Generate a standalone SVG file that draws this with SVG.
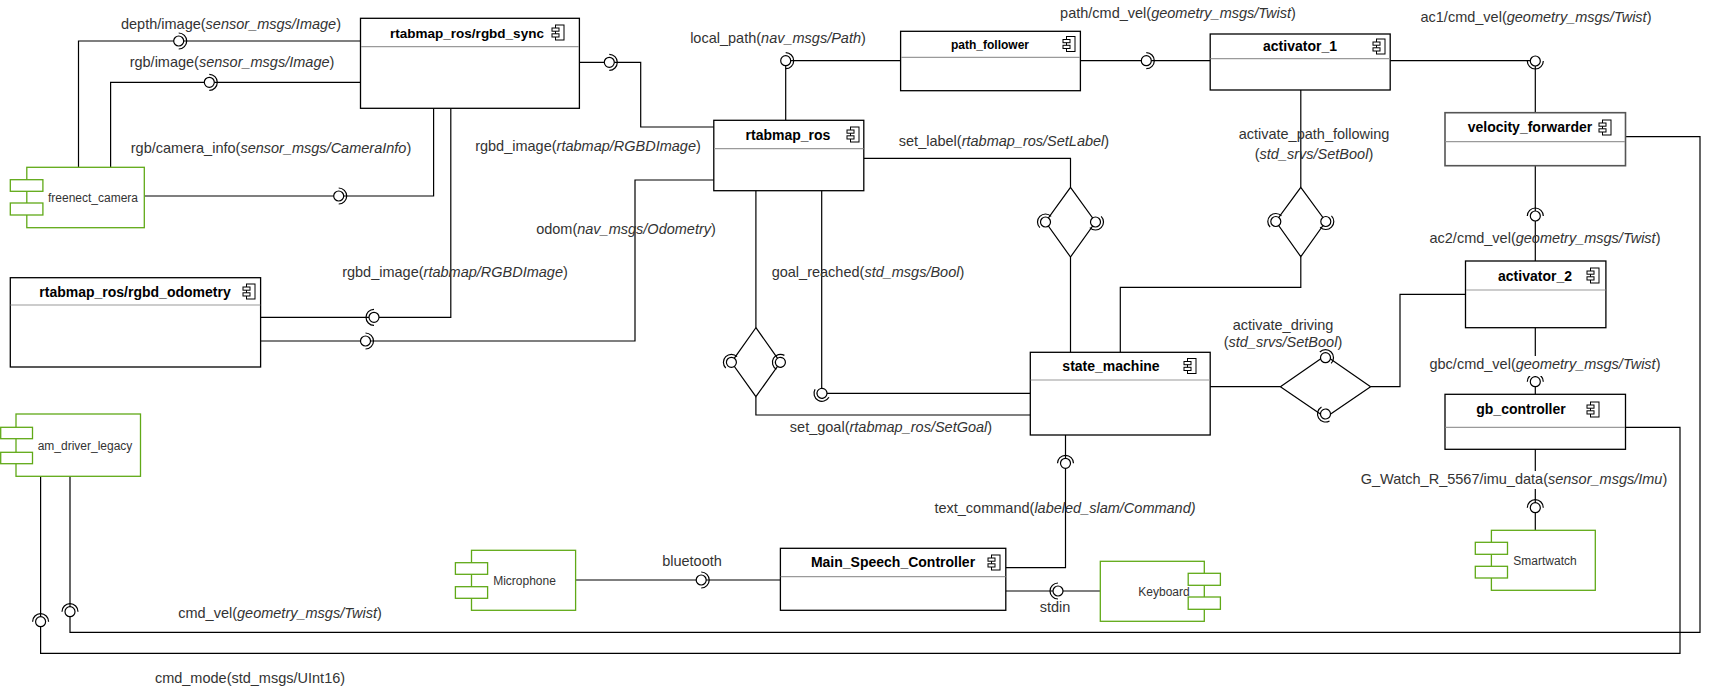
<svg xmlns="http://www.w3.org/2000/svg" xmlns:xlink="http://www.w3.org/1999/xlink" width="1715" height="688" viewBox="0 0 1715 688">
<style>
.bg{fill:#ffffff}
.box{fill:#ffffff;stroke:#000000;stroke-width:1.3}
.sep{stroke:#9a9a9a;stroke-width:1.2}
.gbox{fill:#ffffff;stroke:#60a917;stroke-width:1.3}
.ln{fill:none;stroke:#000000;stroke-width:1.2}
.title{font-family:"Liberation Sans",Arial,sans-serif;font-weight:bold;font-size:14px;fill:#000000;text-anchor:middle}
.gt{font-family:"Liberation Sans",Arial,sans-serif;font-size:12px;fill:#333333;text-anchor:middle}
.lbl{font-family:"Liberation Sans",Arial,sans-serif;font-size:14.5px;fill:#333333;text-anchor:middle}
.it{font-style:italic}
.ico{fill:#ffffff;stroke:#000000;stroke-width:1}
</style>
<defs>
<g id="lol">
<circle cx="0" cy="0" r="5" fill="#ffffff" stroke="#000000" stroke-width="1.2"/>
<path d="M0,-8 A8,8 0 0 1 0,8" fill="none" stroke="#000000" stroke-width="1.2"/>
</g>
<g id="icon">
<rect x="3.5" y="0" width="8.5" height="15" class="ico"/>
<rect x="0" y="3" width="7" height="3.2" class="ico"/>
<rect x="0" y="8.8" width="7" height="3.2" class="ico"/>
</g>
</defs>
<rect class="bg" x="0" y="0" width="1715" height="688"/>

<g id="connectors">
<polyline class="ln" points="78.5,167.3 78.5,41 360.5,41"/>
<polyline class="ln" points="110.6,167.3 110.6,82.3 360.5,82.3"/>
<polyline class="ln" points="144.3,196 433.6,196 433.6,108.3"/>
<polyline class="ln" points="579.4,62.3 640.7,62.3 640.7,127 713.8,127"/>
<polyline class="ln" points="785.7,120.3 785.7,60.7 900.6,60.7"/>
<polyline class="ln" points="1080.4,60.7 1210.2,60.7"/>
<polyline class="ln" points="1390.2,60.7 1535.3,60.7 1535.3,112.7"/>
<polyline class="ln" points="1535.3,165.7 1535.3,261"/>
<polyline class="ln" points="1535.3,327.7 1535.3,394.3"/>
<polyline class="ln" points="1535.3,449.3 1535.3,530.3"/>
<polyline class="ln" points="260.6,317.3 450.8,317.3 450.8,108.3"/>
<polyline class="ln" points="260.6,341 635,341 635,180 713.8,180"/>
<polyline class="ln" points="863.8,158.3 1070.5,158.3 1070.5,187.3"/>
<polyline class="ln" points="1070.5,257 1070.5,352.3"/>
<polygon class="ln" points="1070.5,187.3 1095.5,222 1070.5,257 1045.5,222"/>
<polyline class="ln" points="1300.8,90 1300.8,187.3"/>
<polygon class="ln" points="1300.8,187.3 1325.8,221.5 1300.8,256.7 1275.8,221.5"/>
<polyline class="ln" points="1300.8,256.7 1300.8,287.3 1120.3,287.3 1120.3,352.3"/>
<polyline class="ln" points="755.9,190.7 755.9,327.7"/>
<polygon class="ln" points="755.9,327.7 780.4,362.3 755.9,396.7 731.4,362.3"/>
<polyline class="ln" points="755.9,396.7 755.9,415 1030.3,415"/>
<polyline class="ln" points="821.7,190.7 821.7,393.3 1030.3,393.3"/>
<polyline class="ln" points="1210.2,386.7 1280.4,386.7"/>
<polygon class="ln" points="1325.5,355.5 1370.6,386.7 1325.5,417.5 1280.4,386.7"/>
<polyline class="ln" points="1370.6,386.7 1400,386.7 1400,294.3 1465.5,294.3"/>
<polyline class="ln" points="1065.5,435 1065.5,567.7 1005.8,567.7"/>
<polyline class="ln" points="575.6,580 780.4,580"/>
<polyline class="ln" points="1005.8,591 1100.3,591"/>
<polyline class="ln" points="70,476.3 70,632.3 1700,632.3 1700,136.7 1625.5,136.7"/>
<polyline class="ln" points="40.6,476.3 40.6,653.3 1680,653.3 1680,427.3 1625.5,427.3"/>

<use xlink:href="#lol" transform="translate(178.7,41)"/>
<use xlink:href="#lol" transform="translate(209.3,82.3)"/>
<use xlink:href="#lol" transform="translate(338.7,196)"/>
<use xlink:href="#lol" transform="translate(609.3,62.3)"/>
<use xlink:href="#lol" transform="translate(785.7,60.7)"/>
<use xlink:href="#lol" transform="translate(1146.3,60.7)"/>
<use xlink:href="#lol" transform="translate(1535.3,61) rotate(90)"/>
<use xlink:href="#lol" transform="translate(1535.3,216) rotate(-90)"/>
<use xlink:href="#lol" transform="translate(1535.3,381.7) rotate(-90)"/>
<use xlink:href="#lol" transform="translate(1535.3,507.7) rotate(-90)"/>
<use xlink:href="#lol" transform="translate(374,317.3) rotate(180)"/>
<use xlink:href="#lol" transform="translate(365.5,341)"/>
<use xlink:href="#lol" transform="translate(1045.5,222) rotate(-135)"/>
<use xlink:href="#lol" transform="translate(1095.5,222) rotate(45)"/>
<use xlink:href="#lol" transform="translate(1275.8,221.5) rotate(-135)"/>
<use xlink:href="#lol" transform="translate(1325.8,221.5) rotate(45)"/>
<use xlink:href="#lol" transform="translate(731.4,362.3) rotate(-135)"/>
<use xlink:href="#lol" transform="translate(780.4,362.3) rotate(-150)"/>
<use xlink:href="#lol" transform="translate(822,393.3) rotate(120)"/>
<use xlink:href="#lol" transform="translate(1325.5,357.7) rotate(-45)"/>
<use xlink:href="#lol" transform="translate(1325.5,414) rotate(150)"/>
<use xlink:href="#lol" transform="translate(1065.5,463.3) rotate(-90)"/>
<use xlink:href="#lol" transform="translate(701.2,580)"/>
<use xlink:href="#lol" transform="translate(1058,591) rotate(180)"/>
<use xlink:href="#lol" transform="translate(70,611.7) rotate(-90)"/>
<use xlink:href="#lol" transform="translate(40.6,621.7) rotate(-90)"/>
</g>

<g id="labels">
<text class="lbl" x="231" y="29">depth/image(<tspan class="it">sensor_msgs/Image</tspan>)</text>
<text class="lbl" x="232" y="67">rgb/image(<tspan class="it">sensor_msgs/Image</tspan>)</text>
<text class="lbl" x="271" y="153">rgb/camera_info(<tspan class="it">sensor_msgs/CameraInfo</tspan>)</text>
<text class="lbl" x="588" y="151">rgbd_image(<tspan class="it">rtabmap/RGBDImage</tspan>)</text>
<text class="lbl" x="626" y="234">odom(<tspan class="it">nav_msgs/Odometry</tspan>)</text>
<text class="lbl" x="778" y="43">local_path(<tspan class="it">nav_msgs/Path</tspan>)</text>
<text class="lbl" x="1178" y="18">path/cmd_vel(<tspan class="it">geometry_msgs/Twist</tspan>)</text>
<text class="lbl" x="1536" y="22">ac1/cmd_vel(<tspan class="it">geometry_msgs/Twist</tspan>)</text>
<text class="lbl" x="1004" y="146">set_label(<tspan class="it">rtabmap_ros/SetLabel</tspan>)</text>
<text class="lbl" x="1314" y="139">activate_path_following</text>
<text class="lbl" x="1314" y="159">(<tspan class="it">std_srvs/SetBool</tspan>)</text>
<text class="lbl" x="1545" y="243">ac2/cmd_vel(<tspan class="it">geometry_msgs/Twist</tspan>)</text>
<text class="lbl" x="455" y="277">rgbd_image(<tspan class="it">rtabmap/RGBDImage</tspan>)</text>
<text class="lbl" x="868" y="277">goal_reached(<tspan class="it">std_msgs/Bool</tspan>)</text>
<text class="lbl" x="891" y="432">set_goal(<tspan class="it">rtabmap_ros/SetGoal</tspan>)</text>
<text class="lbl" x="1283" y="330">activate_driving</text>
<text class="lbl" x="1283" y="347">(<tspan class="it">std_srvs/SetBool</tspan>)</text>
<rect x="1424" y="356" width="242" height="20" fill="#ffffff"/>
<text class="lbl" x="1545" y="369">gbc/cmd_vel(<tspan class="it">geometry_msgs/Twist</tspan>)</text>
<rect x="1354" y="471" width="320" height="18" fill="#ffffff"/>
<text class="lbl" x="1514" y="484">G_Watch_R_5567/imu_data(<tspan class="it">sensor_msgs/Imu</tspan>)</text>
<text class="lbl" x="1065" y="513">text_command(<tspan class="it">labeled_slam/Command)</tspan></text>
<text class="lbl" x="692" y="566">bluetooth</text>
<text class="lbl" x="1055" y="612">stdin</text>
<text class="lbl" x="280" y="618">cmd_vel(<tspan class="it">geometry_msgs/Twist</tspan>)</text>
<text class="lbl" x="250" y="683">cmd_mode(std_msgs/UInt16)</text>
</g>

<g id="rgbd_sync">
<rect class="box" x="360.5" y="18.3" width="218.9" height="90"/>
<line class="sep" x1="361" y1="46.7" x2="579" y2="46.7"/>
<text class="title" x="467" y="37.5" style="font-size:13.5px">rtabmap_ros/rgbd_sync</text>
<use xlink:href="#icon" transform="translate(552,25)"/>
</g>
<g id="rtabmap_ros">
<rect class="box" x="713.8" y="120.3" width="150" height="70.4"/>
<line class="sep" x1="714" y1="148.7" x2="863.5" y2="148.7"/>
<text class="title" x="788" y="139.5">rtabmap_ros</text>
<use xlink:href="#icon" transform="translate(847,127)"/>
</g>
<g id="path_follower">
<rect class="box" x="900.6" y="31.3" width="179.8" height="59.4"/>
<line class="sep" x1="901" y1="57.3" x2="1080" y2="57.3"/>
<text class="title" style="font-size:12px" x="990" y="48.5">path_follower</text>
<use xlink:href="#icon" transform="translate(1063,36.5)"/>
</g>
<g id="activator_1">
<rect class="box" x="1210.2" y="34" width="180" height="56"/>
<line class="sep" x1="1210.5" y1="58.7" x2="1390" y2="58.7"/>
<text class="title" x="1300" y="51">activator_1</text>
<use xlink:href="#icon" transform="translate(1373,39)"/>
</g>
<g id="velocity_forwarder">
<rect class="box" x="1445" y="112.7" width="180.5" height="53" style="stroke:#555555;stroke-width:1.6"/>
<line class="sep" x1="1445.5" y1="141.7" x2="1625" y2="141.7"/>
<text class="title" x="1530" y="132">velocity_forwarder</text>
<use xlink:href="#icon" transform="translate(1599,120)"/>
</g>
<g id="rgbd_odometry">
<rect class="box" x="10.3" y="277.7" width="250.3" height="89.3"/>
<line class="sep" x1="10.5" y1="305" x2="260.3" y2="305"/>
<text class="title" x="135" y="296.5">rtabmap_ros/rgbd_odometry</text>
<use xlink:href="#icon" transform="translate(243,284)"/>
</g>
<g id="activator_2">
<rect class="box" x="1465.5" y="261" width="140.4" height="66.7"/>
<line class="sep" x1="1466" y1="290" x2="1605.5" y2="290"/>
<text class="title" x="1535" y="281">activator_2</text>
<use xlink:href="#icon" transform="translate(1587,268)"/>
</g>
<g id="state_machine">
<rect class="box" x="1030.3" y="352.3" width="179.9" height="82.7"/>
<line class="sep" x1="1030.6" y1="380" x2="1210" y2="380"/>
<text class="title" x="1111" y="371">state_machine</text>
<use xlink:href="#icon" transform="translate(1184,358.5)"/>
</g>
<g id="gb_controller">
<rect class="box" x="1445" y="394.3" width="180.5" height="55"/>
<line class="sep" x1="1445.5" y1="427.3" x2="1625" y2="427.3"/>
<text class="title" x="1521" y="414">gb_controller</text>
<use xlink:href="#icon" transform="translate(1587,402)"/>
</g>
<g id="Main_Speech_Controller">
<rect class="box" x="780.4" y="548.3" width="225.4" height="62"/>
<line class="sep" x1="780.7" y1="576.7" x2="1005.5" y2="576.7"/>
<text class="title" x="893" y="567">Main_Speech_Controller</text>
<use xlink:href="#icon" transform="translate(988,555)"/>
</g>

<g id="freenect_camera">
<rect class="gbox" x="26.8" y="167.3" width="117.5" height="60.4"/>
<rect class="gbox" x="10.3" y="179.7" width="32.6" height="11.6"/>
<rect class="gbox" x="10.3" y="203" width="32.6" height="12"/>
<text class="gt" x="93" y="202">freenect_camera</text>
</g>
<g id="am_driver_legacy">
<rect class="gbox" x="16" y="414" width="124.5" height="62.3"/>
<rect class="gbox" x="0.7" y="427.3" width="31.8" height="11.4"/>
<rect class="gbox" x="0.7" y="452.3" width="31.8" height="11.4"/>
<text class="gt" x="85" y="450">am_driver_legacy</text>
</g>
<g id="Microphone">
<rect class="gbox" x="471.5" y="550.3" width="104.1" height="60"/>
<rect class="gbox" x="455.4" y="562.7" width="32.2" height="11.6"/>
<rect class="gbox" x="455.4" y="586.7" width="32.2" height="11.6"/>
<text class="gt" x="524.5" y="585">Microphone</text>
</g>
<g id="Keyboard">
<rect class="gbox" x="1100.3" y="561.3" width="104" height="60"/>
<rect class="gbox" x="1188.2" y="573.3" width="32.2" height="12"/>
<rect class="gbox" x="1188.2" y="597" width="32.2" height="12.3"/>
<text class="gt" x="1164" y="596">Keyboard</text>
</g>
<g id="Smartwatch">
<rect class="gbox" x="1491.4" y="530.3" width="103.9" height="60"/>
<rect class="gbox" x="1475.3" y="542.3" width="32.2" height="12"/>
<rect class="gbox" x="1475.3" y="566.3" width="32.2" height="11.7"/>
<text class="gt" x="1545" y="565">Smartwatch</text>
</g>
</svg>
